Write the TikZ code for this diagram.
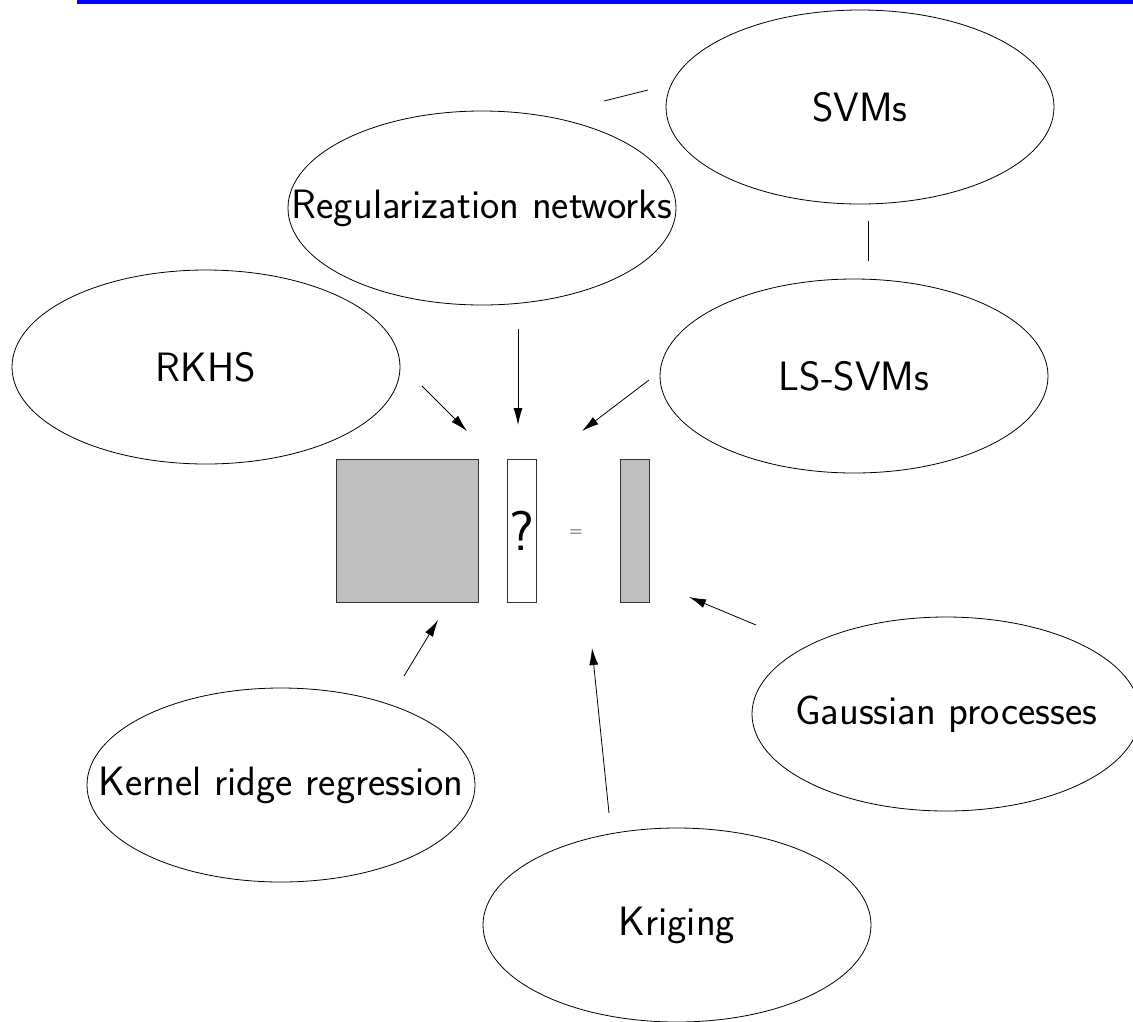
\documentclass[tikz,border=0pt]{standalone}
\usetikzlibrary{shapes.geometric,arrows.meta}
\tikzset{
  blob/.style={ellipse, draw, line width=0.8pt, minimum width=388pt,
    minimum height=194pt, inner sep=0pt, font=\sffamily\fontsize{41}{45}\selectfont},
  vec/.style={draw=black!80, line width=0.8pt, minimum width=29pt,
    minimum height=143pt, inner sep=0pt},
  arr/.style={-{Latex[length=17pt,width=9pt]}, line width=0.8pt},
}
\newcommand{\wide}[1]{\makebox[0pt]{#1}}

\begin{document}
\begin{tikzpicture}[x=1pt, y=-1pt]
  \useasboundingbox (0,0) rectangle (1133,1021);
  \fill[blue] (77,0) rectangle (1133,4);

  % the methods
  \node[blob] (svm) at (860,107) {\wide{SVMs}};
  \node[blob] (reg) at (482,208) {\wide{Regularization networks}};
  \node[blob] (rkhs) at (206,367) {\wide{RKHS}};
  \node[blob] (lssvm) at (854,376) {\wide{LS-SVMs}};
  \node[blob] (krr) at (281,785) {\wide{Kernel ridge regression}};
  \node[blob] (gp) at (946,714) {\wide{Gaussian processes}};
  \node[blob] (krig) at (677,925) {\wide{Kriging}};

  % the linear system
  \node[vec, fill=black!25, minimum width=142pt] (K) at (407,530.5) {};
  \node[vec, fill=white, font=\sffamily\fontsize{56}{60}\selectfont] (alpha) at (521.5,530.5) {?};
  \node[font=\sffamily\fontsize{18}{20}\selectfont] (eq) at (576,533) {=};
  \node[vec, fill=black!25] (y) at (635,530.5) {};

  % loose ends
  \coordinate (svm-w) at (648,90);   \coordinate (reg-e) at (604,101);
  \coordinate (svm-s) at (868,221);  \coordinate (lssvm-n) at (868,261);
  \coordinate (rkhs-a) at (422,386); \coordinate (rkhs-b) at (467,431);
  \coordinate (reg-a) at (518,329);  \coordinate (reg-b) at (518,425);
  \coordinate (lssvm-a) at (649,380); \coordinate (lssvm-b) at (582,431);
  \coordinate (krr-a) at (404,676);  \coordinate (krr-b) at (438,620);
  \coordinate (krig-a) at (609,813); \coordinate (krig-b) at (592,648);
  \coordinate (gp-a) at (756,625);   \coordinate (gp-b) at (689,597);

  \draw[line width=0.8pt] (reg-e) -- (svm-w);
  \draw[line width=0.8pt] (svm-s) -- (lssvm-n);
  \draw[arr] (rkhs-a) -- (rkhs-b);
  \draw[arr] (reg-a) -- (reg-b);
  \draw[arr] (lssvm-a) -- (lssvm-b);
  \draw[arr] (krr-a) -- (krr-b);
  \draw[arr] (krig-a) -- (krig-b);
  \draw[arr] (gp-a) -- (gp-b);
\end{tikzpicture}
\end{document}
